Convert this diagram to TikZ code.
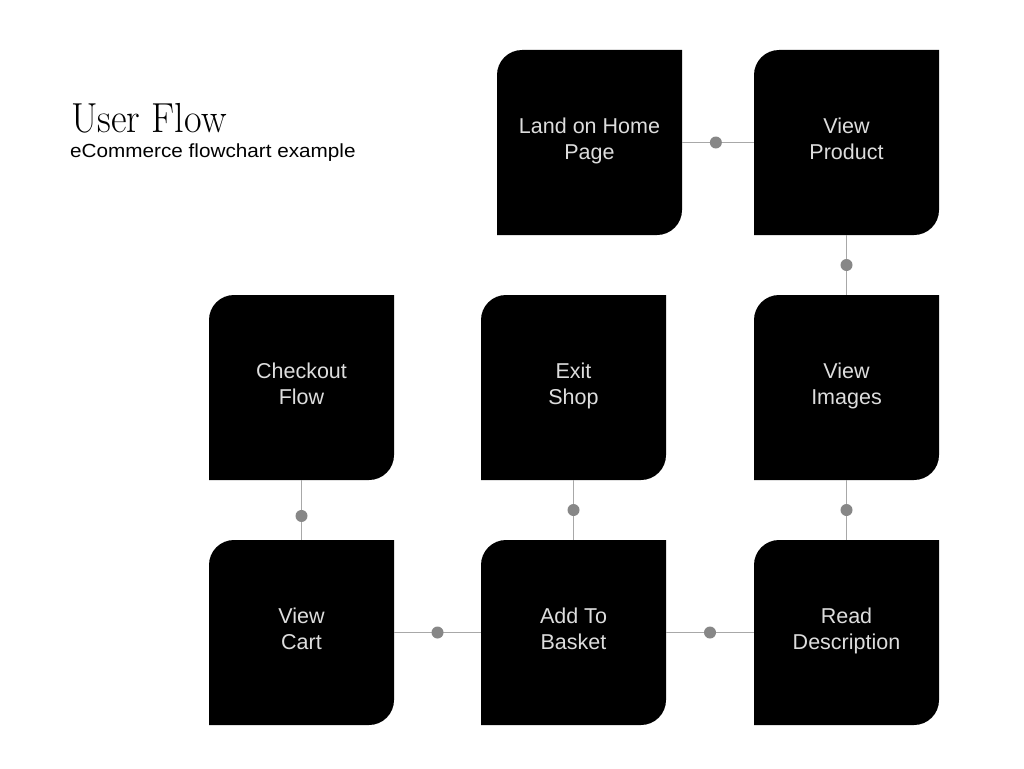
\documentclass[tikz,border=0pt]{standalone}
\usepackage{fontspec}
\newfontfamily\boxfont{Liberation Sans}
\usetikzlibrary{calc}
\definecolor{boxtext}{HTML}{DDDDDD}
\definecolor{linegray}{HTML}{A8A8A8}
\definecolor{dotgray}{HTML}{878787}
\tikzset{
  flowbox/.style={minimum width=185pt, minimum height=185pt, inner sep=0pt,
    align=center, text=boxtext, font=\boxfont\fontsize{21.5}{26}\selectfont,
    execute at begin node=\strut, execute at end node=\strut,
    path picture={
      \fill[black] (path picture bounding box.south west)
        -- ([yshift=-25pt]path picture bounding box.north west)
        arc[start angle=180, end angle=90, radius=25pt]
        -- (path picture bounding box.north east)
        -- ([yshift=25pt]path picture bounding box.south east)
        arc[start angle=0, end angle=-90, radius=25pt]
        -- cycle;
    }},
  conn/.style={draw=linegray, line width=1.3pt},
  joint/.style={circle, fill=dotgray, minimum size=12pt, inner sep=0pt}
}
\begin{document}
\begin{tikzpicture}[x=1pt, y=-1pt]
\useasboundingbox (0,0) rectangle (1024,768);
\fill[white] (0,0) rectangle (1024,768);

\node[anchor=base west, inner sep=0pt, xscale=0.91, font=\fontsize{42}{42}\selectfont] (title) at (71,132) {User Flow};
\node[anchor=base west, inner sep=0pt, xscale=1.09, font=\boxfont\fontsize{19}{22}\selectfont] (subtitle) at (70,157) {eCommerce flowchart example};

\node[flowbox] (land) at (589.5,142.5) {Land on Home\\Page};
\node[flowbox] (prod) at (846.5,142.5) {View\\Product};
\node[flowbox] (check) at (301.5,387.5) {Checkout\\Flow};
\node[flowbox] (exit) at (573.5,387.5) {Exit\\Shop};
\node[flowbox] (images) at (846.5,387.5) {View\\Images};
\node[flowbox] (cart) at (301.5,632.5) {View\\Cart};
\node[flowbox] (basket) at (573.5,632.5) {Add To\\Basket};
\node[flowbox] (read) at (846.5,632.5) {Read\\Description};

\draw[conn] (land) -- (prod) node[joint, pos=0.47] (d1) {};
\draw[conn] (prod) -- (images) node[joint, midway] (d2) {};
\draw[conn] (images) -- (read) node[joint, midway] (d3) {};
\draw[conn] (basket) -- (read) node[joint, midway] (d4) {};
\draw[conn] (cart) -- (basket) node[joint, midway] (d5) {};
\draw[conn] (exit) -- (basket) node[joint, midway] (d6) {};
\draw[conn] (check) -- (cart) node[joint, pos=0.6] (d7) {};
\end{tikzpicture}
\end{document}
